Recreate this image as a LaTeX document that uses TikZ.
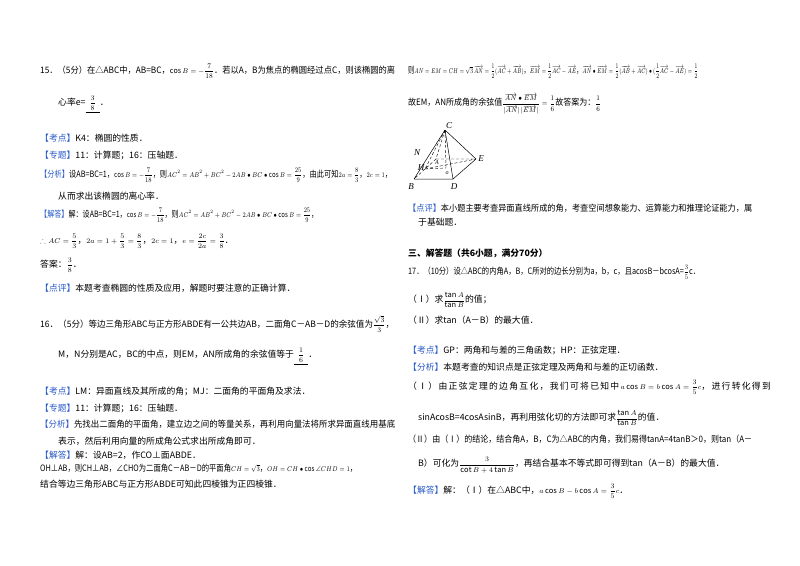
\documentclass[tikz,border=0pt]{standalone}
\usepackage{fontspec}
\usepackage{amsmath,amssymb}
\setmainfont{Noto Sans CJK SC}
\newfontfamily\figfont{Liberation Serif}
\definecolor{tagblue}{RGB}{40,90,200}
\newcommand\tg[1]{\textcolor{tagblue}{【#1】}}
\newcommand\vv[1]{\overrightarrow{#1}}
\newcommand\mm[1]{{\fontsize{7.5}{8}\selectfont$\displaystyle #1$}}
\newcommand\fitw[2]{\resizebox*{#1pt}{\totalheight}{#2}}
\begin{document}
\begin{tikzpicture}[x=1pt,y=-1pt,
  t/.style={anchor=west,inner sep=0pt,font=\fontsize{8.8}{11}\selectfont},
  lbl/.style={inner sep=0pt,font=\fontsize{9}{10}\selectfont\figfont\itshape},
  dl/.style={densely dashed,line width=0.4pt},
  sl/.style={line width=0.5pt}]
\useasboundingbox (0,0) rectangle (800,565);
\fill[white] (0,0) rectangle (800,565);
% left column
\node[t] (l1) at (40,71) {\fitw{355}{15．（5分）在△ABC中，AB=BC，\mm{\cos B=-\frac{7}{18}}．若以A，B为焦点的椭圆经过点C，则该椭圆的离}};
\node[t] (l2) at (58,104) {心率e=\underline{\ \ \mm{\frac{3}{8}}\ \ }．};
\node[t] (l3) at (40,138) {\tg{考点}K4：椭圆的性质．};
\node[t] (l4) at (40,155) {\tg{专题}11：计算题；16：压轴题．};
\node[t] (l5) at (40,175) {\fitw{352}{\tg{分析}设AB=BC=1，\mm{\cos B=-\frac{7}{18}}，则\mm{AC^2=AB^2+BC^2-2AB\bullet BC\bullet\cos B=\frac{25}{9}}，由此可知\mm{2a=\frac{8}{3}}，\mm{2c=1}，}};
\node[t] (l6) at (58,196) {从而求出该椭圆的离心率．};
\node[t] (l7) at (40,215) {\fitw{278}{\tg{解答}解：设AB=BC=1，\mm{\cos B=-\frac{7}{18}}，则\mm{AC^2=AB^2+BC^2-2AB\bullet BC\bullet\cos B=\frac{25}{9}}，}};
\node[t] (l8) at (40,241) {\mm{\therefore AC=\frac{5}{3}}，\mm{2a=1+\frac{5}{3}=\frac{8}{3}}，\mm{2c=1}，\mm{e=\frac{2c}{2a}=\frac{3}{8}}．};
\node[t] (l9) at (40,265) {答案：\mm{\frac{3}{8}}．};
\node[t] (l10) at (40,288) {\tg{点评}本题考查椭圆的性质及应用，解题时要注意的正确计算．};
\node[t] (l11) at (40,324) {\fitw{354}{16．（5分）等边三角形ABC与正方形ABDE有一公共边AB，二面角C－AB－D的余弦值为\mm{\frac{\sqrt3}{3}}，}};
\node[t] (l12) at (58,356) {M，N分别是AC，BC的中点，则EM，AN所成角的余弦值等于\underline{\ \ \mm{\frac{1}{6}}\ \ }．};
\node[t] (l13) at (40,391) {\tg{考点}LM：异面直线及其所成的角；MJ：二面角的平面角及求法．};
\node[t] (l14) at (40,408) {\tg{专题}11：计算题；16：压轴题．};
\node[t] (l15) at (40,424) {\fitw{355}{\tg{分析}先找出二面角的平面角，建立边之间的等量关系，再利用向量法将所求异面直线用基底}};
\node[t] (l16) at (58,441) {表示，然后利用向量的所成角公式求出所成角即可．};
\node[t] (l17) at (40,455) {\tg{解答}解：设AB=2，作CO⊥面ABDE．};
\node[t] (l18) at (40,468) {\fitw{317}{OH⊥AB，则CH⊥AB，∠CHO为二面角C－AB－D的平面角\mm{CH=\sqrt3}，\mm{OH=CH\bullet\cos\angle CHD=1}，}};
\node[t] (l19) at (40,484) {结合等边三角形ABC与正方形ABDE可知此四棱锥为正四棱锥．};
% right column
\node[t] (r1) at (408,71) {\fitw{290}{则\mm{AN=EM=CH=\sqrt3\,\vv{AN}=\frac12(\vv{AC}+\vv{AB})}，\mm{\vv{EM}=\frac12\vv{AC}-\vv{AE}}，\mm{\vv{AN}\bullet\vv{EM}=\frac12(\vv{AB}+\vv{AC})\bullet(\frac12\vv{AC}-\vv{AE})=\frac12}}};
\node[t] (r2) at (408,104) {\fitw{193}{故EM，AN所成角的余弦值\mm{\frac{\vv{AN}\bullet\vv{EM}}{|\vv{AN}|\,|\vv{EM}|}=\frac16}故答案为：\mm{\frac16}}};
% figure
\coordinate (C) at (445,130);
\coordinate (B) at (414,179);
\coordinate (D) at (453,179);
\coordinate (E) at (476,159);
\coordinate (A) at (436,159);
\coordinate (O) at (446,168);
\coordinate (H) at (425,169);
\draw[sl] (C)--(B) (C)--(D) (C)--(E) (B)--(D)--(E);
\draw[dl] (C)--(A) (A)--(E) (A)--(B) (C)--(O) (H)--(O) (C)--(H) (H)--(E);
\node[lbl] (lc) at (449,126) {C};
\node[lbl] (ln) at (417,153) {N};
\node[lbl] (le) at (481,159) {E};
\node[lbl,font=\fontsize{6}{7}\selectfont\figfont\itshape] (la) at (437,163) {A};
\node[lbl] (lh) at (421,168) {H};
\node[lbl,font=\fontsize{6}{7}\selectfont\figfont\itshape] (lo) at (447,173) {o};
\node[lbl] (lb) at (411,187) {B};
\node[lbl] (ld) at (454,187) {D};
\node[t] (r3) at (408,208) {\fitw{344}{\tg{点评}本小题主要考查异面直线所成的角，考查空间想象能力、运算能力和推理论证能力，属}};
\node[t] (r4) at (418,222) {于基础题．};
\node[t,font=\fontsize{8.8}{11}\selectfont\bfseries] (r5) at (408,253) {三、解答题（共6小题，满分70分）};
\node[t] (r6) at (408,272) {\fitw{292}{17．（10分）设△ABC的内角A，B，C所对的边长分别为a，b，c，且acosB－bcosA=\mm{\frac35}c．}};
\node[t] (r7) at (408,300) {（Ⅰ）求\mm{\frac{\tan A}{\tan B}}的值；};
\node[t] (r8) at (408,320) {（Ⅱ）求tan（A－B）的最大值．};
\node[t] (r9) at (408,350) {\tg{考点}GP：两角和与差的三角函数；HP：正弦定理．};
\node[t] (r10) at (408,367) {\tg{分析}本题考查的知识点是正弦定理及两角和与差的正切函数．};
\node[t] (r11) at (408,387) {\makebox[357pt][s]{（ Ⅰ ） 由 正 弦 定 理 的 边 角 互 化 ， 我 们 可 将 已 知 中 \mm{a\cos B=b\cos A=\frac35c}， 进 行 转 化 得 到}};
\node[t] (r12) at (418,418) {sinAcosB=4cosAsinB，再利用弦化切的方法即可求\mm{\frac{\tan A}{\tan B}}的值．};
\node[t] (r13) at (408,439) {\fitw{344}{（Ⅱ）由（Ⅰ）的结论，结合角A，B，C为△ABC的内角，我们易得tanA=4tanB＞0，则tan（A－}};
\node[t] (r14) at (418,465) {B）可化为\mm{\frac{3}{\cot B+4\tan B}}，再结合基本不等式即可得到tan（A－B）的最大值．};
\node[t] (r15) at (408,491) {\tg{解答}解：（Ⅰ）在△ABC中，\mm{a\cos B-b\cos A=\frac35c}．};
\end{tikzpicture}
\end{document}
